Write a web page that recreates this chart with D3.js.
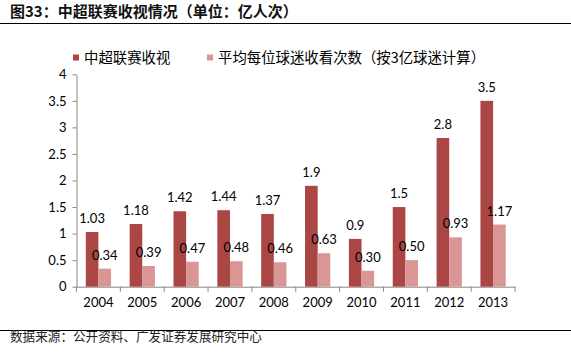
<!DOCTYPE html>
<html>
<head>
<meta charset="utf-8">
<script src="https://cdn.jsdelivr.net/npm/d3@7"></script>
<style>
  body { margin: 0; background: #fff; }
  svg text { font-family: Lato, "Liberation Sans", sans-serif; }
  .cjk { font-family: "Noto Sans CJK SC", sans-serif; }
</style>
</head>
<body>
<div id="chart"></div>
<script>
var years = ['2004', '2005', '2006', '2007', '2008', '2009', '2010', '2011', '2012', '2013'];
var viewers = [1.03, 1.18, 1.42, 1.44, 1.37, 1.9, 0.9, 1.5, 2.8, 3.5];
var perFan = [0.34, 0.39, 0.47, 0.48, 0.46, 0.63, 0.30, 0.50, 0.93, 1.17];
var viewerLabels = ['1.03', '1.18', '1.42', '1.44', '1.37', '1.9', '0.9', '1.5', '2.8', '3.5'];
var perFanLabels = ['0.34', '0.39', '0.47', '0.48', '0.46', '0.63', '0.30', '0.50', '0.93', '1.17'];
var seriesNames = ['中超联赛收视', '平均每位球迷收看次数（按3亿球迷计算）'];
var yTicks = [0, 0.5, 1, 1.5, 2, 2.5, 3, 3.5, 4];

var W = 571, H = 354;
var colors = ['#AA4643', '#D99694'];

var svg = d3.select('#chart').append('svg')
  .attr('width', W).attr('height', H);

// title + rules
svg.append('text').attr('class', 'cjk')
  .attr('x', 10).attr('y', 17)
  .attr('font-size', 15).attr('font-weight', 'bold').attr('fill', '#111')
  .text('图33：中超联赛收视情况（单位：亿人次）');
svg.append('line').attr('x1', 0).attr('x2', W).attr('y1', 23.5).attr('y2', 23.5)
  .attr('stroke', '#000').attr('stroke-width', 1.2);
svg.append('line').attr('x1', 0).attr('x2', W).attr('y1', 330.5).attr('y2', 330.5)
  .attr('stroke', '#000').attr('stroke-width', 1.2);
svg.append('text').attr('class', 'cjk')
  .attr('x', 10).attr('y', 341)
  .attr('font-size', 12.6).attr('fill', '#222')
  .text('数据来源：公开资料、广发证券发展研究中心');

var plotLeft = 76.5, plotRight = 515, plotTop = 74.3, plotBottom = 286.7;

var x = d3.scaleBand().domain(years).range([plotLeft, plotRight]);
var x1 = d3.scaleBand().domain([0, 1])
  .range([x.bandwidth() * 0.212, x.bandwidth() * 0.788]);
var y = d3.scaleLinear().domain([0, 4]).range([plotBottom, plotTop]);

// y axis
var yAxis = d3.axisLeft(y).tickValues(yTicks).tickSize(4).tickSizeOuter(0)
  .tickFormat(function(d) { return d; });
var gy = svg.append('g').attr('transform', 'translate(' + plotLeft + ',0)').call(yAxis);
gy.select('.domain').attr('stroke', '#868686');
gy.selectAll('.tick line').attr('stroke', '#868686');
gy.selectAll('.tick text').attr('font-size', 13).attr('fill', '#000')
  .attr('font-family', 'Lato, sans-serif').attr('x', -10);

// x axis
var xAxis = d3.axisBottom(x).tickSize(0).tickSizeOuter(0);
var gx = svg.append('g').attr('transform', 'translate(0,' + plotBottom + ')').call(xAxis);
gx.select('.domain').attr('stroke', '#868686');
gx.selectAll('.tick text').attr('font-size', 13).attr('fill', '#000')
  .attr('font-family', 'Lato, sans-serif').attr('dy', '0.71em').attr('y', 11);
gx.selectAll('.sep').data(d3.range(years.length + 1)).enter().append('line')
  .attr('x1', function(i) { return plotLeft + i * x.step(); })
  .attr('x2', function(i) { return plotLeft + i * x.step(); })
  .attr('y1', 0).attr('y2', 5).attr('stroke', '#868686');

var series = [viewers, perFan];
var labels = [viewerLabels, perFanLabels];

series.forEach(function(vals, s) {
  svg.append('g').selectAll('rect').data(vals).enter().append('rect')
    .attr('x', function(d, i) { return x(years[i]) + x1(s); })
    .attr('y', function(d) { return y(d); })
    .attr('width', x1.bandwidth())
    .attr('height', function(d) { return plotBottom - y(d); })
    .attr('fill', colors[s]);
  svg.append('g').selectAll('text').data(vals).enter().append('text')
    .attr('x', function(d, i) { return x(years[i]) + x1(s) + x1.bandwidth() / 2; })
    .attr('y', function(d) { return y(d) - 9; })
    .attr('text-anchor', 'middle')
    .attr('font-size', 13).attr('fill', '#000')
    .text(function(d, i) { return labels[s][i]; });
});

// legend
var legendX = [73, 207];
seriesNames.forEach(function(name, s) {
  svg.append('rect').attr('x', legendX[s]).attr('y', 54.5)
    .attr('width', 6).attr('height', 6).attr('fill', colors[s]);
  svg.append('text').attr('class', 'cjk')
    .attr('x', legendX[s] + 11).attr('y', 62.5)
    .attr('font-size', 14.4).attr('fill', '#000')
    .text(name);
});
</script>
</body>
</html>
